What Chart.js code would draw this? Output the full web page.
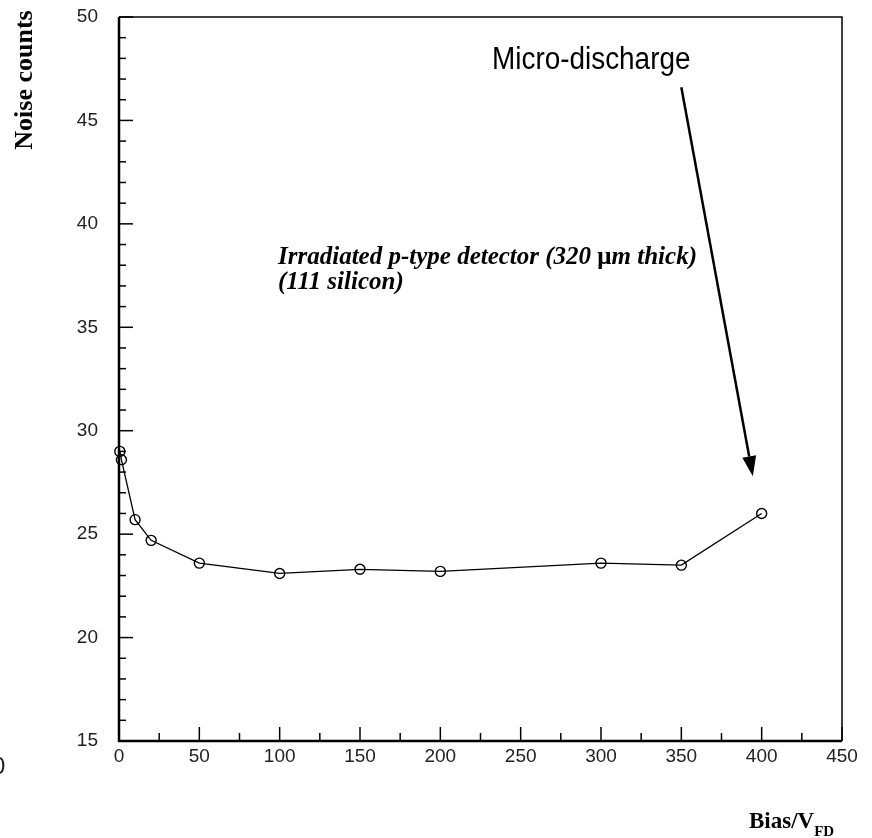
<!DOCTYPE html>
<html>
<head>
<meta charset="utf-8">
<script src="https://cdn.jsdelivr.net/npm/chart.js@4/dist/chart.umd.min.js"></script>
<style>
  html, body { margin: 0; padding: 0; background: #fff; }
  #wrap { position: relative; width: 872px; height: 838px; }
</style>
</head>
<body>
<div id="wrap"><canvas id="noiseChart" width="872" height="838"></canvas></div>
<script>
// bias scan of the irradiated p-type detector
var biasValues = [0.5, 1.5, 10, 20, 50, 100, 150, 200, 300, 350, 400];
var noiseCounts = [29.0, 28.6, 25.7, 24.7, 23.6, 23.1, 23.3, 23.2, 23.6, 23.5, 26.0];
var xTickValues = [0, 50, 100, 150, 200, 250, 300, 350, 400, 450];
var yTickValues = [15, 20, 25, 30, 35, 40, 45, 50];

// arrow pointing at the micro-discharge point, in data units
var arrowFrom = {x: 350, y: 46.6};
var arrowTo = {x: 394.5, y: 27.8};

var points = biasValues.map(function (b, i) {
    return {x: b, y: noiseCounts[i]};
});

var SERIF = '"Liberation Serif", "Times New Roman", serif';
var SANS = '"Liberation Sans", Arial, sans-serif';

// frame, inward ticks and the text annotations
var framePlugin = {
    id: 'frame',
    afterDraw: function (chart) {
        var ctx = chart.ctx;
        var a = chart.chartArea;
        var xs = chart.scales.x;
        var ys = chart.scales.y;
        ctx.save();
        ctx.strokeStyle = '#000';

        ctx.lineWidth = 1.5;
        ctx.beginPath();
        ctx.moveTo(a.left, a.top);
        ctx.lineTo(a.right, a.top);
        ctx.lineTo(a.right, a.bottom);
        ctx.stroke();
        ctx.lineWidth = 2.5;
        ctx.beginPath();
        ctx.moveTo(a.left, a.top);
        ctx.lineTo(a.left, a.bottom);
        ctx.lineTo(a.right, a.bottom);
        ctx.stroke();

        ctx.lineWidth = 1.5;
        var v, p, len;
        for (v = 15; v <= 50; v += 1) {
            p = ys.getPixelForValue(v);
            len = (v % 5 === 0) ? 14 : 7;
            ctx.beginPath();
            ctx.moveTo(a.left, p);
            ctx.lineTo(a.left + len, p);
            ctx.stroke();
        }
        for (v = 0; v <= 450; v += 25) {
            p = xs.getPixelForValue(v);
            len = (v % 50 === 0) ? 14 : 8;
            ctx.beginPath();
            ctx.moveTo(p, a.bottom);
            ctx.lineTo(p, a.bottom - len);
            ctx.stroke();
        }

        // arrow
        var x1 = xs.getPixelForValue(arrowFrom.x), y1 = ys.getPixelForValue(arrowFrom.y);
        var x2 = xs.getPixelForValue(arrowTo.x), y2 = ys.getPixelForValue(arrowTo.y);
        var ang = Math.atan2(y2 - y1, x2 - x1);
        var headLen = 20, headW = 7;
        var bx = x2 - headLen * Math.cos(ang), by = y2 - headLen * Math.sin(ang);
        ctx.lineWidth = 2.5;
        ctx.beginPath();
        ctx.moveTo(x1, y1);
        ctx.lineTo(bx, by);
        ctx.stroke();
        ctx.fillStyle = '#000';
        ctx.beginPath();
        ctx.moveTo(x2, y2);
        ctx.lineTo(bx + headW * Math.sin(ang), by - headW * Math.cos(ang));
        ctx.lineTo(bx - headW * Math.sin(ang), by + headW * Math.cos(ang));
        ctx.closePath();
        ctx.fill();
        ctx.restore();

        // big label
        ctx.save();
        ctx.fillStyle = '#000';
        ctx.textBaseline = 'alphabetic';
        ctx.translate(492, 69);
        ctx.scale(0.9, 1);
        ctx.font = '31px ' + SANS;
        ctx.fillText('Micro-discharge', 0, 0);
        ctx.restore();

        // detector description, mu drawn upright
        ctx.save();
        ctx.fillStyle = '#000';
        var tx = 278;
        ctx.font = 'italic bold 25px ' + SERIF;
        ctx.fillText('Irradiated p-type detector (320 ', tx, 264);
        tx += ctx.measureText('Irradiated p-type detector (320 ').width;
        ctx.font = 'bold 25px ' + SERIF;
        ctx.fillText('\u03bc', tx, 264);
        tx += ctx.measureText('\u03bc').width;
        ctx.font = 'italic bold 25px ' + SERIF;
        ctx.fillText('m thick)', tx, 264);
        ctx.fillText('(111 silicon)', 278, 289);

        // axis titles
        ctx.font = 'bold 23px ' + SERIF;
        ctx.fillText('Bias/V', 749, 828);
        var bw = ctx.measureText('Bias/V').width;
        ctx.font = 'bold 15px ' + SERIF;
        ctx.fillText('FD', 749 + bw, 836);

        ctx.translate(32, 80);
        ctx.rotate(-Math.PI / 2);
        ctx.textAlign = 'center';
        ctx.font = 'bold 26px ' + SERIF;
        ctx.fillText('Noise counts', 0, 0);
        ctx.restore();

        ctx.save();
        ctx.fillStyle = '#222';
        ctx.font = '24px ' + SANS;
        ctx.fillText('0', -8, 774);
        ctx.restore();
    }
};

new Chart(document.getElementById('noiseChart'), {
    type: 'line',
    data: {
        datasets: [{
            data: points,
            borderColor: '#000',
            borderWidth: 1.3,
            backgroundColor: 'rgba(0,0,0,0)',
            pointRadius: 5,
            pointBorderWidth: 1.4,
            pointBorderColor: '#000',
            pointBackgroundColor: 'rgba(0,0,0,0)',
            fill: false,
            tension: 0,
            clip: false
        }]
    },
    options: {
        responsive: false,
        animation: false,
        layout: {padding: {top: 17, right: 30, left: 0, bottom: 0}},
        plugins: {legend: {display: false}, tooltip: {enabled: false}},
        scales: {
            x: {
                type: 'linear',
                min: 0,
                max: 450,
                afterBuildTicks: function (s) {
                    s.ticks = xTickValues.map(function (v) { return {value: v}; });
                },
                afterFit: function (s) {
                    s.height = 97;
                    s.paddingLeft = 0;
                    s.paddingRight = 0;
                },
                grid: {display: false, drawTicks: false},
                border: {display: false},
                ticks: {
                    padding: 4,
                    color: '#222',
                    font: {family: SANS, size: 19}
                }
            },
            y: {
                type: 'linear',
                min: 15,
                max: 50,
                afterBuildTicks: function (s) {
                    s.ticks = yTickValues.map(function (v) { return {value: v}; });
                },
                afterFit: function (s) {
                    s.width = 119;
                    s.paddingTop = 0;
                    s.paddingBottom = 0;
                },
                grid: {display: false, drawTicks: false},
                border: {display: false},
                ticks: {
                    padding: 21,
                    color: '#222',
                    font: {family: SANS, size: 19}
                }
            }
        }
    },
    plugins: [framePlugin]
});
</script>
</body>
</html>
